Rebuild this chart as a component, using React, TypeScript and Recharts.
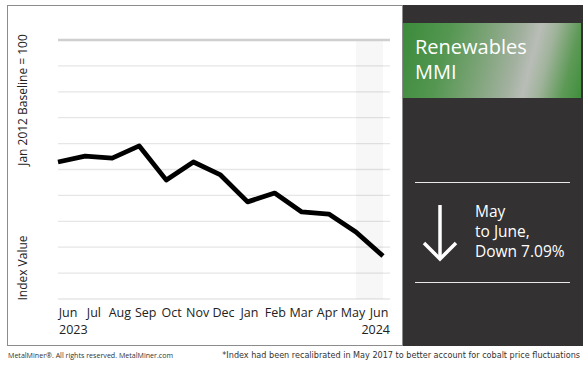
import React from 'react';
import { LineChart, Line, XAxis, YAxis, CartesianGrid, ReferenceArea, ReferenceLine } from 'recharts';

// Index values (hidden scale, top gridline = 100)
const months = ['Jun', 'Jul', 'Aug', 'Sep', 'Oct', 'Nov', 'Dec', 'Jan', 'Feb', 'Mar', 'Apr', 'May', 'Jun '];
const indexValues = [52.9, 55.2, 54.4, 59.1, 45.9, 52.9, 47.9, 37.5, 40.9, 33.6, 32.8, 25.9, 16.6];
const yearLabels = ['2023', '2024'];
const gridTicks = [0, 10, 20, 30, 40, 50, 60, 70, 80, 90, 100];

const chartData = months.map((m, i) => ({ month: m, value: indexValues[i] }));

const FONT = '"Open Sans", "Noto Sans", sans-serif';

function MonthTick(props: any) {
  const { x, y, payload, index } = props;
  const last = index === months.length - 1;
  return (
    <g>
      <text x={x} y={y} dy={10} textAnchor="middle" fill="#222" fontSize={12.5} fontFamily={FONT}>
        {String(payload.value).trim()}
      </text>
      {index === 0 && (
        <text x={x - 9} y={y} dy={27} textAnchor="start" fill="#222" fontSize={12.5} fontFamily={FONT}>
          {yearLabels[0]}
        </text>
      )}
      {last && (
        <text x={x + 11} y={y} dy={27} textAnchor="end" fill="#222" fontSize={12.5} fontFamily={FONT}>
          {yearLabels[1]}
        </text>
      )}
    </g>
  );
}

export default function App() {
  return (
    <div style={{ position: 'absolute', left: 0, top: 0, width: 583, height: 365, background: '#fff', fontFamily: FONT }}>
      {/* chart frame */}
      <div style={{ position: 'absolute', left: 7, top: 5, width: 396, height: 341, border: '1px solid #8c8c8c', boxSizing: 'border-box' }} />
      <div style={{ position: 'absolute', left: 0, top: 0 }}>
        <LineChart width={403} height={346} data={chartData} margin={{ top: 40, right: 13, bottom: 7, left: 58 }}>
          <ReferenceArea xAxisId="line" x1="May" fill="#000" fillOpacity={0.03} stroke="none" />
          <CartesianGrid vertical={false} stroke="#e6e6e6" strokeWidth={1.3} />
          <XAxis xAxisId="line" dataKey="month" hide padding={{ left: 0, right: 7 }} />
          <XAxis
            xAxisId="labels"
            dataKey="month"
            height={40}
            axisLine={false}
            tickLine={false}
            interval={0}
            padding={{ left: 10, right: 11 }}
            tick={<MonthTick />}
          />
          <YAxis hide domain={[0, 100]} ticks={gridTicks} />
          <ReferenceLine xAxisId="line" y={100} stroke="#cfcfcf" strokeWidth={2.5} />
          <Line
            xAxisId="line"
            type="linear"
            dataKey="value"
            stroke="#000"
            strokeWidth={4.8}
            strokeLinejoin="round"
            dot={false}
            activeDot={false}
            isAnimationActive={false}
          />
        </LineChart>
      </div>
      {/* y axis titles */}
      <div style={{ position: 'absolute', left: 22, top: 100, transform: 'translate(-50%, -50%) rotate(-90deg)', whiteSpace: 'nowrap', fontSize: 12, color: '#222' }}>
        Jan 2012 Baseline = 100
      </div>
      <div style={{ position: 'absolute', left: 22, top: 268, transform: 'translate(-50%, -50%) rotate(-90deg)', whiteSpace: 'nowrap', fontSize: 12, color: '#222' }}>
        Index Value
      </div>
      {/* right dark panel */}
      <div style={{ position: 'absolute', left: 403, top: 5, width: 180, height: 341, background: '#333132' }}>
        <div
          style={{
            position: 'absolute', left: 0, top: 18, width: 178, height: 75,
            background: 'linear-gradient(105deg, #3b8b3a 0%, #559752 25%, #7ea479 45%, #a3b1a0 62%, #b9bdb7 70%, #a0b39b 78%, #5e9a57 90%, #3f8f3c 100%)',
          }}
        >
          <div style={{ position: 'absolute', left: 12, top: 11, color: '#fff', fontSize: 20, lineHeight: '25px' }}>
            Renewables<br />MMI
          </div>
        </div>
        <div style={{ position: 'absolute', left: 12, top: 177, width: 155, height: 1, background: '#e8e8e8' }} />
        <div style={{ position: 'absolute', left: 12, top: 277, width: 155, height: 1, background: '#e8e8e8' }} />
        <svg style={{ position: 'absolute', left: 19, top: 199 }} width={42} height={60}>
          <line x1={18} y1={1} x2={18} y2={55} stroke="#fff" strokeWidth={3.5} />
          <polyline points="2,39 18,55 34,39" fill="none" stroke="#fff" strokeWidth={3.5} />
        </svg>
        <div style={{ position: 'absolute', left: 72, top: 196, color: '#fff', fontSize: 15.5, lineHeight: '20px' }}>
          May<br />to June,<br />Down 7.09%
        </div>
      </div>
      {/* footer */}
      <div style={{ position: 'absolute', left: 8, top: 350, fontSize: 7.1, color: '#333', whiteSpace: 'nowrap' }}>
        MetalMiner®. All rights reserved. MetalMiner.com
      </div>
      <div style={{ position: 'absolute', right: 3, top: 350, fontSize: 8.1, color: '#333', fontFamily: '"DejaVu Sans", sans-serif', whiteSpace: 'nowrap' }}>
        *Index had been recalibrated in May 2017 to better account for cobalt price fluctuations
      </div>
    </div>
  );
}
